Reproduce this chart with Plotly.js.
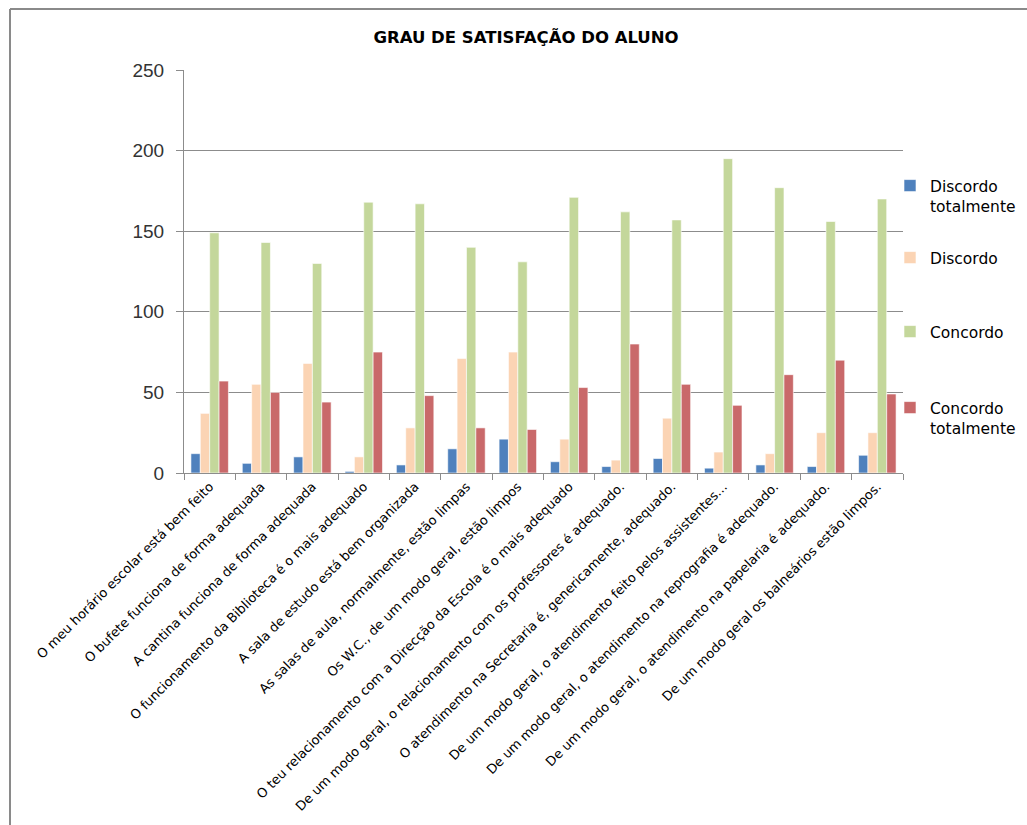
<!DOCTYPE html>
<html>
<head>
<meta charset="utf-8">
<script src="https://cdn.plot.ly/plotly-3.0.1.min.js"></script>
<style>html,body{margin:0;padding:0;background:#fff;}#chart{width:1027px;height:825px;}</style>
</head>
<body>
<div id="chart"></div>
<script>
const categories = [
  "O meu horário escolar está bem feito",
  "O bufete funciona de forma adequada",
  "A cantina funciona de forma adequada",
  "O funcionamento da Biblioteca é o mais adequado",
  "A sala de estudo está bem organizada",
  "As salas de aula, normalmente, estão limpas",
  "Os W.C., de um modo geral, estão limpos",
  "O teu relacionamento com a Direcção da Escola é o mais adequado",
  "De um modo geral, o relacionamento com os professores é adequado.",
  "O atendimento na Secretaria é, genericamente, adequado.",
  "De um modo geral, o atendimento feito pelos assistentes...",
  "De um modo geral, o atendimento na reprografia é adequado.",
  "De um modo geral, o atendimento na papelaria é adequado.",
  "De um modo geral os balneários estão limpos."
];
const discordoTotalmente = [12, 6, 10, 1, 5, 15, 21, 7, 4, 9, 3, 5, 4, 11];
const discordo           = [37, 55, 68, 10, 28, 71, 75, 21, 8, 34, 13, 12, 25, 25];
const concordo           = [149, 143, 130, 168, 167, 140, 131, 171, 162, 157, 195, 177, 156, 170];
const concordoTotalmente = [57, 50, 44, 75, 48, 28, 27, 53, 80, 55, 42, 61, 70, 49];
const seriesNames = ["Discordo<br>totalmente", "Discordo", "Concordo", "Concordo<br>totalmente"];
const seriesValues = [discordoTotalmente, discordo, concordo, concordoTotalmente];
const seriesColors = ["#4F81BD", "#FBD4B4", "#C4D79B", "#C9696A"];

const FONT = "DejaVu Sans, Open Sans, sans-serif";

const L = 184, R = 903, T = 70, B = 473, W = 1027, H = 825;
const pw = R - L, ph = B - T;
const px = v => (v - L) / pw;
const py = v => (B - v) / ph;

const legendIds = ["legend", "legend2", "legend3", "legend4"];
const legendTops = [169, 241, 315, 391];

const traces = seriesValues.map((vals, i) => ({
  type: "bar",
  name: seriesNames[i],
  x: categories,
  y: vals,
  legend: legendIds[i],
  marker: {color: seriesColors[i], line: {color: "#ffffff", width: 0.6}},
  hoverinfo: "x+y+name"
}));

const layout = {
  width: W, height: H,
  margin: {l: L, r: W - R, t: T, b: H - B, autoexpand: false},
  paper_bgcolor: "#ffffff",
  plot_bgcolor: "#ffffff",
  title: {
    text: "<b>GRAU DE SATISFAÇÃO DO ALUNO</b>",
    font: {family: FONT, size: 16.5, color: "#000"},
    x: 526 / W, xref: "container", xanchor: "center",
    y: 1 - 37 / H, yanchor: "middle"
  },
  barmode: "group",
  bargap: 0.27,
  bargroupgap: 0,
  showlegend: true,
  xaxis: {
    type: "category",
    tickangle: -45,
    tickfont: {family: FONT, size: 13, color: "#000"},
    showgrid: false,
    showline: true, linecolor: "#8c8c8c", linewidth: 1,
    ticks: "outside", ticklen: 6, tickcolor: "#8c8c8c",
    tickson: "boundaries",
    automargin: false
  },
  yaxis: {
    range: [0, 250],
    dtick: 50,
    tickfont: {family: "Liberation Sans Narrow, Liberation Sans, sans-serif", size: 19, color: "#333"},
    showgrid: true, gridcolor: "#8c8c8c", gridwidth: 1,
    showline: true, linecolor: "#8c8c8c", linewidth: 1,
    ticks: "outside", ticklen: 7, tickcolor: "#8c8c8c",
    ticklabelstandoff: 8,
    zeroline: false,
    automargin: false
  },
  shapes: [
    {type: "line", xref: "paper", yref: "paper", x0: px(10), x1: px(1030), y0: py(9), y1: py(9),
     line: {color: "#8a8a8a", width: 2}},
    {type: "line", xref: "paper", yref: "paper", x0: px(10), x1: px(10), y0: py(9), y1: py(830),
     line: {color: "#8a8a8a", width: 2}}
  ]
};

legendIds.forEach((id, i) => {
  layout[id] = {
    x: px(890), xanchor: "left",
    y: py(legendTops[i]), yanchor: "top",
    font: {family: FONT, size: 15.5, color: "#000"},
    bgcolor: "rgba(0,0,0,0)",
    itemwidth: 30,
    valign: "top"
  };
});

Plotly.newPlot("chart", traces, layout, {displayModeBar: false});
</script>
</body>
</html>
